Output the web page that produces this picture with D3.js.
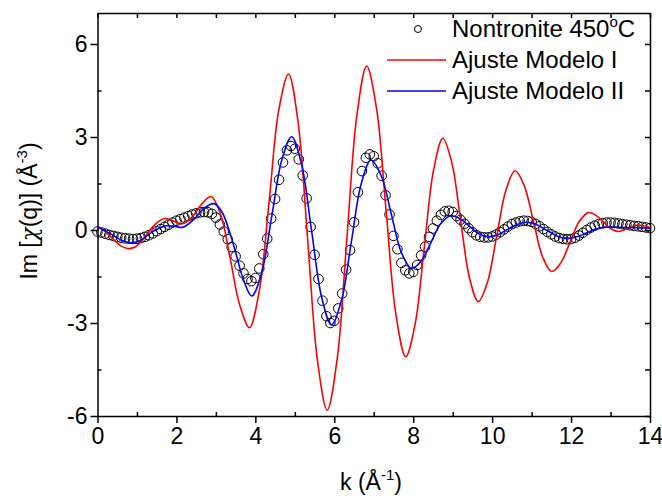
<!DOCTYPE html>
<html><head><meta charset="utf-8">
<script src="https://cdn.jsdelivr.net/npm/d3@7"></script>
<style>body{margin:0;background:#fff}svg{display:block}text{font-family:"Liberation Sans",Arial,sans-serif;fill:#000}</style>
</head><body>
<svg id="c" width="662" height="496"></svg>
<script>
// Data: Nontronite 450°C (circles), k step 0.1
const dataK = d3.range(0, 141).map(i => +(i * 0.1).toFixed(1));
const dataV = [
 -0.05,-0.08,-0.12,-0.16,-0.19,-0.22,-0.25,-0.27,-0.28,-0.29,
 -0.28,-0.26,-0.22,-0.17,-0.11,-0.04,0.03,0.10,0.17,0.24,
 0.30,0.35,0.40,0.45,0.50,0.54,0.57,0.58,0.57,0.52,
 0.40,0.18,-0.05,-0.30,-0.55,-0.85,-1.15,-1.40,-1.58,-1.65,
 -1.55,-1.24,-0.78,-0.28,0.37,1.00,1.62,2.18,2.57,2.71,
 2.62,2.28,1.76,1.02,0.10,-0.80,-1.58,-2.28,-2.78,-3.00,
 -2.93,-2.53,-2.05,-1.28,-0.65,0.25,1.22,1.90,2.33,2.44,
 2.38,2.15,1.75,1.12,0.50,-0.19,-0.62,-1.06,-1.30,-1.40,
 -1.35,-1.13,-0.82,-0.54,-0.22,0.05,0.30,0.49,0.60,0.62,
 0.58,0.45,0.33,0.20,0.06,-0.07,-0.17,-0.22,-0.24,-0.24,
 -0.21,-0.15,-0.07,0.02,0.11,0.19,0.24,0.28,0.30,0.29,
 0.26,0.20,0.12,0.03,-0.06,-0.14,-0.21,-0.26,-0.29,-0.30,
 -0.29,-0.25,-0.18,-0.09,0.00,0.08,0.14,0.19,0.22,0.24,
 0.24,0.23,0.21,0.19,0.17,0.15,0.13,0.12,0.10,0.08,0.06
];
// Ajuste Modelo I (red)
const m1K = [0,0.2,0.4,0.6,0.78,0.95,1.15,1.4,1.55,1.71,1.9,2.15,2.4,2.65,2.88,
 3.12,3.36,3.6,3.85,4.10,4.35,4.59,4.84,5.085,5.33,5.575,5.82,6.07,6.32,6.57,6.82,
 7.07,7.315,7.56,7.81,8.045,8.28,8.515,8.75,8.975,9.2,9.425,9.65,9.88,10.115,10.35,10.58,
 10.81,11.045,11.28,11.51,11.74,11.975,12.21,12.44,12.63,12.82,13.01,13.2,13.45,13.7,14];
const m1V = [0.10,-0.05,-0.30,-0.52,-0.60,-0.55,-0.30,0.10,0.28,0.37,0.30,0.20,0.42,0.85,1.08,
 0.50,-0.90,-2.40,-3.15,-1.96,0.94,3.84,5.03,3.45,-0.39,-4.23,-5.81,-4.19,-0.26,3.67,5.29,
 3.92,0.60,-2.72,-4.09,-3.06,-0.57,1.93,2.96,2.19,0.33,-1.54,-2.31,-1.69,-0.20,1.29,1.91,
 1.44,0.29,-0.87,-1.34,-1.06,-0.39,0.28,0.56,0.47,0.26,0.04,-0.05,0.06,0.16,0.08];
// Ajuste Modelo II (blue)
const m2K = [0,0.3,0.6,0.87,1.1,1.4,1.71,1.95,2.17,2.45,2.7,2.95,3.15,3.36,3.53,3.7,3.91,
 4.16,4.415,4.67,4.92,5.17,5.425,5.68,5.93,6.18,6.43,6.68,6.93,7.19,7.445,7.7,7.96,
 8.21,8.455,8.7,8.95,9.19,9.425,9.66,9.9,10.145,10.39,10.635,10.88,11.13,11.385,11.64,11.89,
 12.14,12.4,12.65,12.9,13.4,14];
const m2V = [0.10,-0.10,-0.32,-0.41,-0.33,-0.05,0.13,0.12,0.09,0.35,0.70,0.85,0.59,-0.11,-0.86,-1.61,-2.13,
 -1.38,0.44,2.26,3.01,2.12,-0.03,-2.17,-3.06,-2.28,-0.40,1.48,2.26,1.75,0.51,-0.73,-1.24,
 -0.99,-0.39,0.21,0.46,0.36,0.12,-0.12,-0.22,-0.15,0.02,0.18,0.25,0.17,-0.01,-0.19,-0.27,
 -0.22,-0.09,0.04,0.09,0.08,0.06];
const xTicks = [0,2,4,6,8,10,12,14];
const yTicks = [-6,-3,0,3,6];
const legendLabels = ["Nontronite 450", "Ajuste Modelo I", "Ajuste Modelo II"];

const svg = d3.select("#c");
const L = 97.5, R = 650, T = 13, B = 416;
const x = d3.scaleLinear().domain([0, 14]).range([L, R]);
const y = d3.scaleLinear().domain([-6, 7]).range([B, T]);
const FS = 23;
const fmt = d => String(d);

function styleAxis(g){ g.select(".domain").attr("stroke","#000").attr("stroke-width",1.5);
  g.selectAll(".tick line").attr("stroke","#000").attr("stroke-width",1.5); }

// bottom major
const gb = svg.append("g").attr("transform",`translate(0,${B})`)
  .call(d3.axisBottom(x).tickValues(xTicks).tickFormat(fmt).tickSize(7).tickPadding(5).tickSizeOuter(0));
styleAxis(gb);
gb.selectAll("text").attr("font-size",FS).attr("font-family","Liberation Sans, Arial");
svg.append("g").attr("transform",`translate(0,${B})`)
  .call(d3.axisTop(x).tickValues([1,3,5,7,9,11,13]).tickSize(4).tickFormat("").tickSizeOuter(0))
  .call(styleAxis).select(".domain").remove();
// top
svg.append("g").attr("transform",`translate(0,${T})`)
  .call(d3.axisBottom(x).tickValues(d3.range(0,15)).tickSize(5).tickFormat("").tickSizeOuter(0)).call(styleAxis);
// left
const gl = svg.append("g").attr("transform",`translate(${L},0)`)
  .call(d3.axisLeft(y).tickValues(yTicks).tickFormat(fmt).tickSize(7).tickPadding(3).tickSizeOuter(0));
styleAxis(gl);
gl.selectAll("text").attr("font-size",FS).attr("font-family","Liberation Sans, Arial");
svg.append("g").attr("transform",`translate(${L},0)`)
  .call(d3.axisRight(y).tickValues([-4.5,-1.5,1.5,4.5]).tickSize(4).tickFormat("").tickSizeOuter(0))
  .call(styleAxis).select(".domain").remove();
// right
svg.append("g").attr("transform",`translate(${R},0)`)
  .call(d3.axisLeft(y).tickValues([-6,-4.5,-3,-1.5,0,1.5,3,4.5,6]).tickSize(5).tickFormat("").tickSizeOuter(0)).call(styleAxis);

// circles
const pts = dataK.map((k,i)=>[k,dataV[i]]);
svg.append("g").selectAll("circle").data(pts).join("circle")
  .attr("cx",d=>x(d[0])).attr("cy",d=>y(d[1])).attr("r",4.8)
  .attr("fill","none").attr("stroke","#000").attr("stroke-width",1);

const line = d3.line().x(d=>x(d[0])).y(d=>y(d[1])).curve(d3.curveCatmullRom.alpha(0.5));
svg.append("path").datum(m1K.map((k,i)=>[k,m1V[i]])).attr("d",line)
  .attr("fill","none").attr("stroke","#ff0000").attr("stroke-width",1.6);
svg.append("path").datum(m2K.map((k,i)=>[k,m2V[i]])).attr("d",line)
  .attr("fill","none").attr("stroke","#0000ff").attr("stroke-width",1.6);

// legend
const lg = svg.append("g");
const rows = [29, 60, 91];
lg.append("circle").attr("cx",418).attr("cy",rows[0]).attr("r",3.5).attr("fill","none").attr("stroke","#000");
lg.append("line").attr("x1",387).attr("x2",446).attr("y1",rows[1]).attr("y2",rows[1]).attr("stroke","#ff0000").attr("stroke-width",1.6);
lg.append("line").attr("x1",387).attr("x2",446).attr("y1",rows[2]).attr("y2",rows[2]).attr("stroke","#0000ff").attr("stroke-width",1.6);
legendLabels.forEach((t,i)=>{
  const tx = lg.append("text").attr("x",452).attr("y",rows[i]+8).attr("font-size",24);
  tx.append("tspan").text(t);
  if(i===0){ tx.append("tspan").attr("font-size",15).attr("dy",-10).text("o");
             tx.append("tspan").attr("dy",10).text("C"); }
});

// axis titles
const xt = svg.append("text").attr("x",371).attr("y",490).attr("text-anchor","middle").attr("font-size",FS);
xt.append("tspan").text("k (Å");
xt.append("tspan").attr("font-size",15).attr("dy",-10).text("-1");
xt.append("tspan").attr("dy",10).text(")");
const yt = svg.append("text").attr("transform","translate(37,211) rotate(-90)").attr("text-anchor","middle").attr("font-size",FS);
yt.append("tspan").text("Im [");
yt.append("tspan").attr("font-family","DejaVu Serif").attr("font-style","italic").text("χ");
yt.append("tspan").text("(q)] (Å");
yt.append("tspan").attr("font-size",15).attr("dy",-10).text("-3");
yt.append("tspan").attr("dy",10).text(")");
</script>
</body></html>
